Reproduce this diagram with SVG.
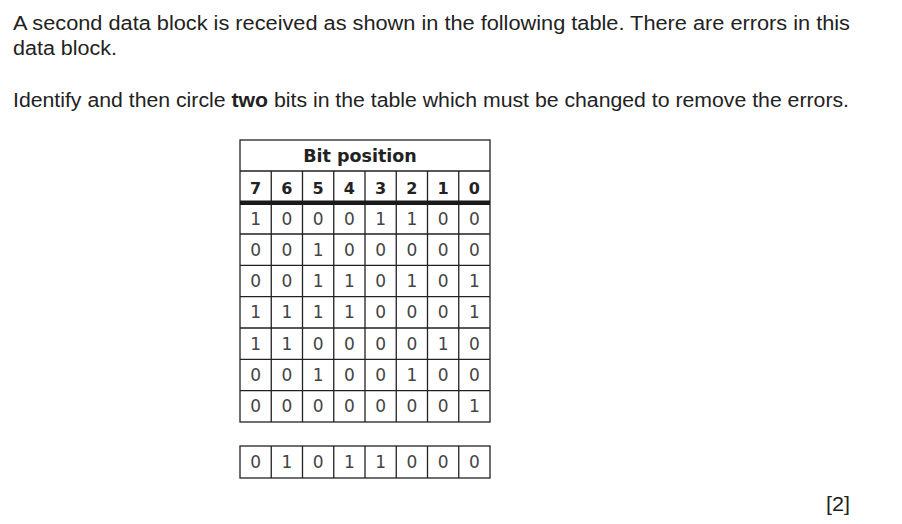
<svg xmlns="http://www.w3.org/2000/svg" width="902" height="524" viewBox="0 0 902 524">
<style>
.q{font-family:"Liberation Sans",Arial,sans-serif;font-size:19.5px;fill:#222}
.hb{font-family:"DejaVu Sans",sans-serif;font-weight:bold;fill:#222;text-anchor:middle}
.d{font-family:"DejaVu Sans",sans-serif;font-size:17px;font-weight:normal;fill:#444;text-anchor:middle}
.ln{stroke:#222;stroke-width:1.3;fill:none}
</style>
<rect width="902" height="524" fill="#fff"/>
<g id="question">
<text class="q" x="13" y="30" textLength="837" lengthAdjust="spacingAndGlyphs">A second data block is received as shown in the following table. There are errors in this</text>
<text class="q" x="13" y="55" textLength="104" lengthAdjust="spacingAndGlyphs">data block.</text>
<text class="q" x="13" y="106.5" textLength="836" lengthAdjust="spacingAndGlyphs">Identify and then circle <tspan font-weight="bold">two</tspan> bits in the table which must be changed to remove the errors.</text>
</g>
<g id="data-table">
<rect class="ln" x="240" y="140" width="250" height="282"/>
<path class="ln" d="M240 171H490M240 234H490M240 265.3H490M240 296.6H490M240 328H490M240 359.3H490M240 390.6H490"/>
<path class="ln" d="M271.25 171V422M302.5 171V422M333.75 171V422M365 171V422M396.25 171V422M427.5 171V422M458.75 171V422"/>
<rect x="240" y="200.5" width="250" height="4.5" fill="#1a1a1a"/>
<text class="hb" x="360" y="161.5" font-size="17.5">Bit position</text>
<g class="hb" font-size="16">
<text x="255.6" y="194">7</text><text x="286.9" y="194">6</text><text x="318.1" y="194">5</text><text x="349.4" y="194">4</text><text x="380.6" y="194">3</text><text x="411.9" y="194">2</text><text x="443.1" y="194">1</text><text x="474.4" y="194">0</text>
</g>
<g class="d">
<text x="255.6" y="224.5">1</text><text x="286.9" y="224.5">0</text><text x="318.1" y="224.5">0</text><text x="349.4" y="224.5">0</text><text x="380.6" y="224.5">1</text><text x="411.9" y="224.5">1</text><text x="443.1" y="224.5">0</text><text x="474.4" y="224.5">0</text>
<text x="255.6" y="255.8">0</text><text x="286.9" y="255.8">0</text><text x="318.1" y="255.8">1</text><text x="349.4" y="255.8">0</text><text x="380.6" y="255.8">0</text><text x="411.9" y="255.8">0</text><text x="443.1" y="255.8">0</text><text x="474.4" y="255.8">0</text>
<text x="255.6" y="287.1">0</text><text x="286.9" y="287.1">0</text><text x="318.1" y="287.1">1</text><text x="349.4" y="287.1">1</text><text x="380.6" y="287.1">0</text><text x="411.9" y="287.1">1</text><text x="443.1" y="287.1">0</text><text x="474.4" y="287.1">1</text>
<text x="255.6" y="318.4">1</text><text x="286.9" y="318.4">1</text><text x="318.1" y="318.4">1</text><text x="349.4" y="318.4">1</text><text x="380.6" y="318.4">0</text><text x="411.9" y="318.4">0</text><text x="443.1" y="318.4">0</text><text x="474.4" y="318.4">1</text>
<text x="255.6" y="349.7">1</text><text x="286.9" y="349.7">1</text><text x="318.1" y="349.7">0</text><text x="349.4" y="349.7">0</text><text x="380.6" y="349.7">0</text><text x="411.9" y="349.7">0</text><text x="443.1" y="349.7">1</text><text x="474.4" y="349.7">0</text>
<text x="255.6" y="381">0</text><text x="286.9" y="381">0</text><text x="318.1" y="381">1</text><text x="349.4" y="381">0</text><text x="380.6" y="381">0</text><text x="411.9" y="381">1</text><text x="443.1" y="381">0</text><text x="474.4" y="381">0</text>
<text x="255.6" y="412.3">0</text><text x="286.9" y="412.3">0</text><text x="318.1" y="412.3">0</text><text x="349.4" y="412.3">0</text><text x="380.6" y="412.3">0</text><text x="411.9" y="412.3">0</text><text x="443.1" y="412.3">0</text><text x="474.4" y="412.3">1</text>
</g>
</g>
<g id="parity-row">
<rect class="ln" x="240" y="446" width="250" height="32"/>
<path class="ln" d="M271.25 446V478M302.5 446V478M333.75 446V478M365 446V478M396.25 446V478M427.5 446V478M458.75 446V478"/>
<g class="d">
<text x="255.6" y="468">0</text><text x="286.9" y="468">1</text><text x="318.1" y="468">0</text><text x="349.4" y="468">1</text><text x="380.6" y="468">1</text><text x="411.9" y="468">0</text><text x="443.1" y="468">0</text><text x="474.4" y="468">0</text>
</g>
</g>
<g id="marks">
<text class="q" x="826" y="510.5" textLength="24" lengthAdjust="spacingAndGlyphs">[2]</text>
</g>
<g id="connectors"></g>
</svg>
